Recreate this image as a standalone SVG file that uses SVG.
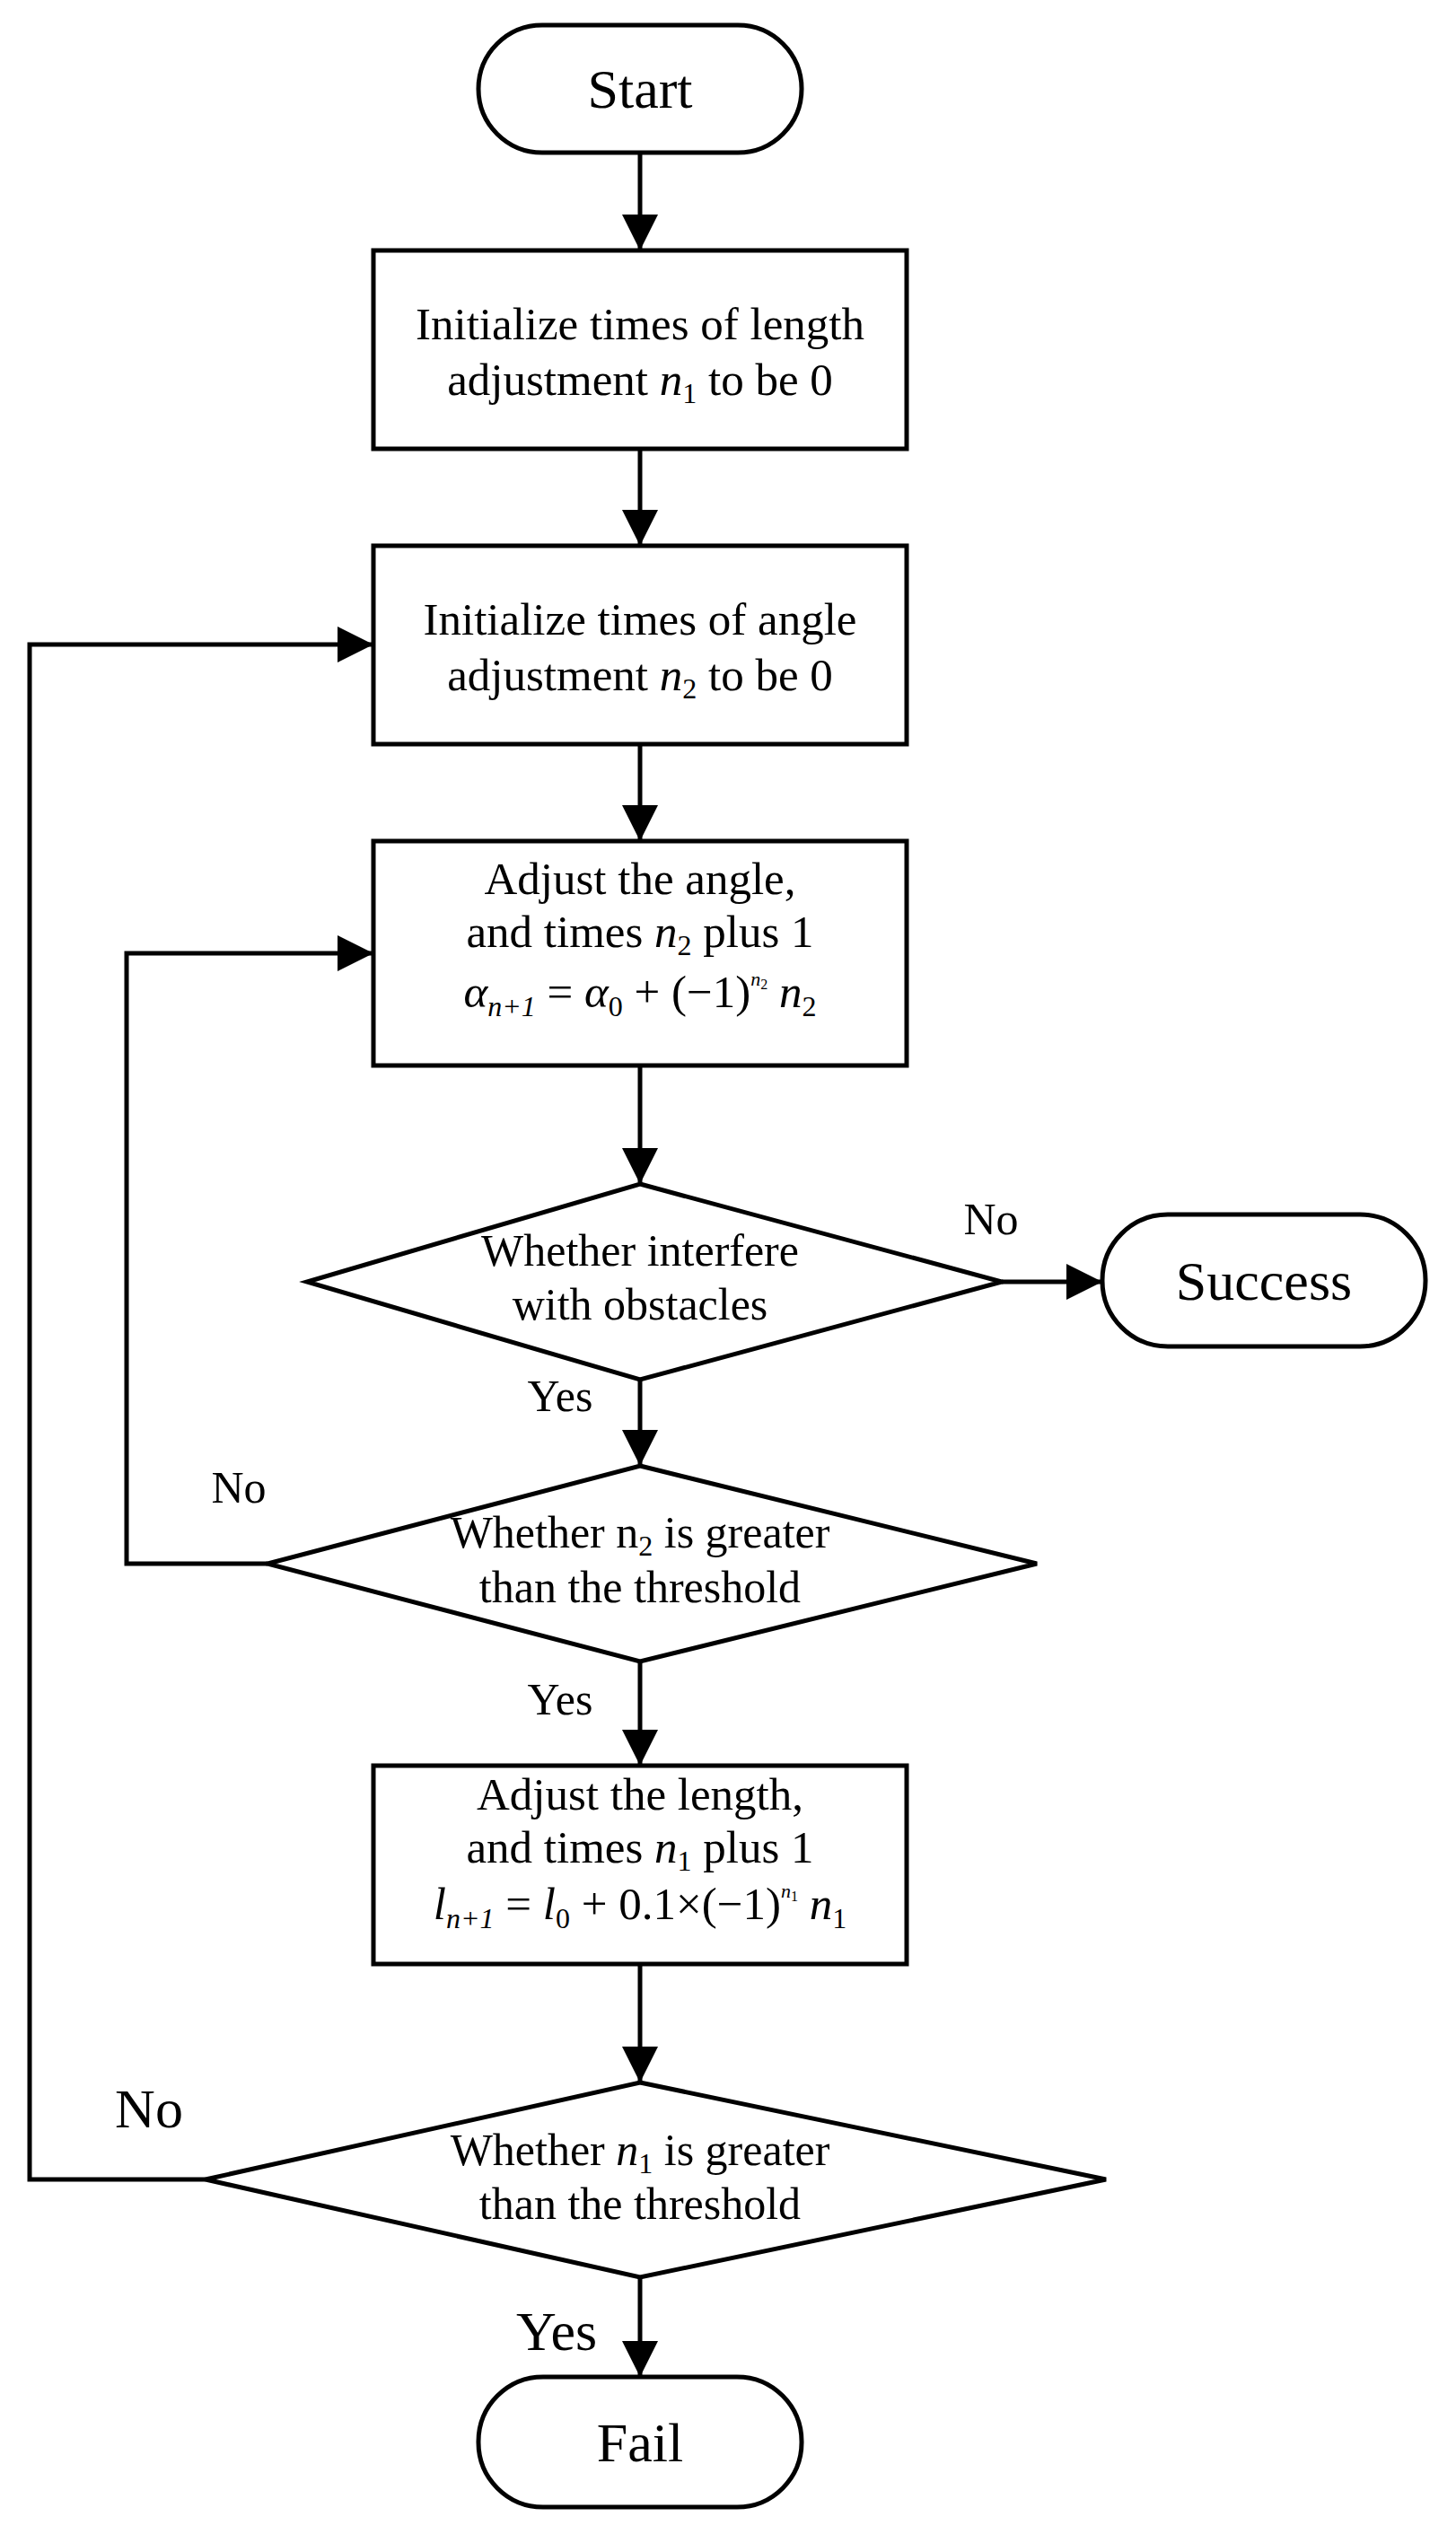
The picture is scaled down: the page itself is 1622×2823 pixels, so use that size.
<svg xmlns="http://www.w3.org/2000/svg" width="1622" height="2823" viewBox="0 0 1622 2823">
<style>
.s{fill:#fff;stroke:#000;stroke-width:5}
.c{fill:none;stroke:#000;stroke-width:5}
text{font-family:"Liberation Serif","Times New Roman",serif;fill:#000;text-anchor:middle}
.t{font-size:51px}
.b{font-size:62px}
.l{font-size:50px}
.i{font-style:italic}
.sub{font-size:32px}
.sup{font-size:22px}
</style>
<defs>
<marker id="a" markerUnits="userSpaceOnUse" markerWidth="40" markerHeight="40" refX="38" refY="20" orient="auto">
<path d="M0,0 L40,20 L0,40 Z" fill="#000"/>
</marker>
</defs>
<g id="connectors">
<line class="c" x1="713" y1="170" x2="713" y2="277" marker-end="url(#a)"/>
<line class="c" x1="713" y1="500" x2="713" y2="606" marker-end="url(#a)"/>
<line class="c" x1="713" y1="829" x2="713" y2="935" marker-end="url(#a)"/>
<line class="c" x1="713" y1="1187" x2="713" y2="1317" marker-end="url(#a)"/>
<line class="c" x1="1116" y1="1428" x2="1226" y2="1428" marker-end="url(#a)"/>
<line class="c" x1="713" y1="1537" x2="713" y2="1631" marker-end="url(#a)"/>
<polyline class="c" points="298,1742 141,1742 141,1062 414,1062" marker-end="url(#a)"/>
<line class="c" x1="713" y1="1851" x2="713" y2="1965" marker-end="url(#a)"/>
<line class="c" x1="713" y1="2188" x2="713" y2="2318" marker-end="url(#a)"/>
<polyline class="c" points="229,2428 33,2428 33,718 414,718" marker-end="url(#a)"/>
<line class="c" x1="713" y1="2537" x2="713" y2="2646" marker-end="url(#a)"/>
</g>
<g id="start"><rect class="s" x="533" y="28" width="360" height="142" rx="71"/><text class="b" x="713" y="120">Start</text></g>
<g id="init1"><rect class="s" x="416" y="279" width="594" height="221"/>
<text class="t" x="713" y="378">Initialize times of length</text>
<text class="t" x="713" y="440">adjustment <tspan class="i">n</tspan><tspan class="sub" dy="9">1</tspan><tspan dy="-9"> to be 0</tspan></text></g>
<g id="init2"><rect class="s" x="416" y="608" width="594" height="221"/>
<text class="t" x="713" y="707">Initialize times of angle</text>
<text class="t" x="713" y="769">adjustment <tspan class="i">n</tspan><tspan class="sub" dy="9">2</tspan><tspan dy="-9"> to be 0</tspan></text></g>
<g id="adjangle"><rect class="s" x="416" y="937" width="594" height="250"/>
<text class="t" x="713" y="996">Adjust the angle,</text>
<text class="t" x="713" y="1055">and times  <tspan class="i">n</tspan><tspan class="sub" dy="9">2</tspan><tspan dy="-9"> plus 1</tspan></text>
<text class="t" x="713" y="1122"><tspan class="i">α</tspan><tspan class="sub i" dy="10">n+1</tspan><tspan dy="-10"> = </tspan><tspan class="i">α</tspan><tspan class="sub" dy="10">0</tspan><tspan dy="-10"> + (−1)</tspan><tspan class="sup i" dy="-24">n</tspan><tspan style="font-size:16px" dy="4">2</tspan><tspan dy="20"> </tspan><tspan class="i">n</tspan><tspan class="sub" dy="10">2</tspan></text></g>
<g id="interfere"><polygon class="s" points="713,1319 1116,1428 713,1537 342,1428"/>
<text class="l" x="713" y="1410">Whether interfere</text>
<text class="l" x="713" y="1470">with obstacles</text></g>
<g id="success"><rect class="s" x="1228" y="1353" width="360" height="147" rx="73"/><text class="b" x="1408" y="1448">Success</text></g>
<g id="check2"><polygon class="s" points="713,1633 1155,1742 713,1851 298,1742"/>
<text class="l" x="713" y="1724">Whether n<tspan class="sub" dy="9">2</tspan><tspan dy="-9"> is greater</tspan></text>
<text class="l" x="713" y="1785">than the threshold</text></g>
<g id="adjlen"><rect class="s" x="416" y="1967" width="594" height="221"/>
<text class="t" x="713" y="2016">Adjust the length,</text>
<text class="t" x="713" y="2075">and times <tspan class="i">n</tspan><tspan class="sub" dy="9">1</tspan><tspan dy="-9"> plus 1</tspan></text>
<text class="t" x="713" y="2138"><tspan class="i">l</tspan><tspan class="sub i" dy="10">n+1</tspan><tspan dy="-10"> = </tspan><tspan class="i">l</tspan><tspan class="sub" dy="10">0</tspan><tspan dy="-10"> + 0.1×(−1)</tspan><tspan class="sup i" dy="-24">n</tspan><tspan style="font-size:16px" dy="4">1</tspan><tspan dy="20"> </tspan><tspan class="i">n</tspan><tspan class="sub" dy="10">1</tspan></text></g>
<g id="check1"><polygon class="s" points="713,2320 1232,2428 713,2537 229,2428"/>
<text class="l" x="713" y="2412">Whether <tspan class="i">n</tspan><tspan class="sub" dy="9">1</tspan><tspan dy="-9"> is greater</tspan></text>
<text class="l" x="713" y="2472">than the threshold</text></g>
<g id="fail"><rect class="s" x="533" y="2648" width="360" height="145" rx="72"/><text class="b" x="713" y="2742">Fail</text></g>
<g id="labels">
<text class="l" x="1104" y="1375">No</text>
<text class="l" x="624" y="1572">Yes</text>
<text class="l" x="266" y="1674">No</text>
<text class="l" x="624" y="1910">Yes</text>
<text class="b" x="166" y="2370">No</text>
<text class="b" x="620" y="2618">Yes</text>
</g>
</svg>
